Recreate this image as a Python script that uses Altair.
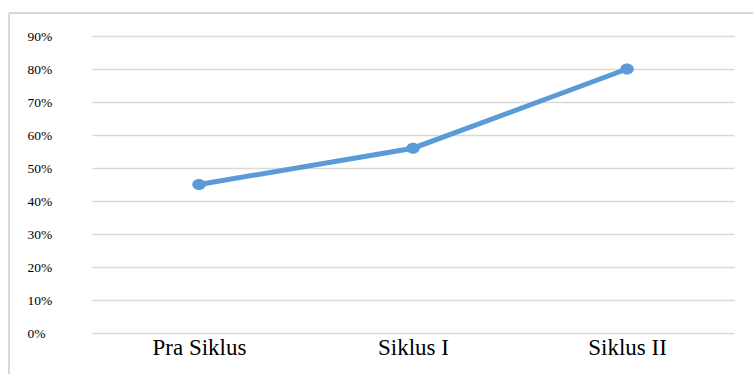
import altair as alt
import pandas as pd

categories = ["Pra Siklus", "Siklus I", "Siklus II"]
values = [0.45, 0.56, 0.80]
y_ticks = [0.0, 0.1, 0.2, 0.3, 0.4, 0.5, 0.6, 0.7, 0.8, 0.9]

df = pd.DataFrame({"cat": categories, "val": values})

x_enc = alt.X("cat:N", sort=categories, title=None,
              scale=alt.Scale(paddingInner=0, paddingOuter=0),
              axis=alt.Axis(labelAngle=0, domain=False, ticks=False, grid=False,
                            labelFont="Liberation Serif", labelFontSize=23,
                            labelColor="#000000", labelPadding=3,
                            labelBaseline="top", labelOverlap=False, labelBound=False))
y_enc = alt.Y("val:Q", title=None,
              scale=alt.Scale(domain=[0, 0.9], nice=False, zero=True),
              axis=alt.Axis(values=y_ticks, format=".0%", domain=False, ticks=False,
                            grid=True, gridColor="#d9d9d9", gridWidth=1.3,
                            tickCount=10,
                            labelFont="Liberation Serif", labelFontSize=13.5,
                            labelColor="#000000", labelAlign="left",
                            labelPadding=65, labelBaseline="middle",
                            labelOverlap=False, labelBound=False, labelFlush=False))

base = alt.Chart(df).encode(x=x_enc, y=y_enc)
line = base.mark_line(color="#5b9bd5", strokeWidth=5)
pts = base.mark_point(filled=True, color="#5b9bd5", size=150, opacity=1,
                      shape="M-1.1,0A1.1,0.9 0 1,0 1.1,0A1.1,0.9 0 1,0 -1.1,0Z")

frame_top = alt.Chart(df).mark_rule(color="#d9d9d9", strokeWidth=2).encode(
    x=alt.value(-83), x2=alt.value(700), y=alt.value(-23))
frame_left = alt.Chart(df).mark_rule(color="#d9d9d9", strokeWidth=2).encode(
    x=alt.value(-83), y=alt.value(-23), y2=alt.value(360))

chart = alt.layer(line, pts, frame_top, frame_left).properties(
    width=642, height=297,
    autosize=alt.AutoSizeParams(type="none"),
    padding={"left": 92, "top": 36, "right": 19, "bottom": 41},
    background="#ffffff",
).configure_view(stroke=None)

chart.save("out.html", embed_options={"renderer": "svg", "actions": False})
